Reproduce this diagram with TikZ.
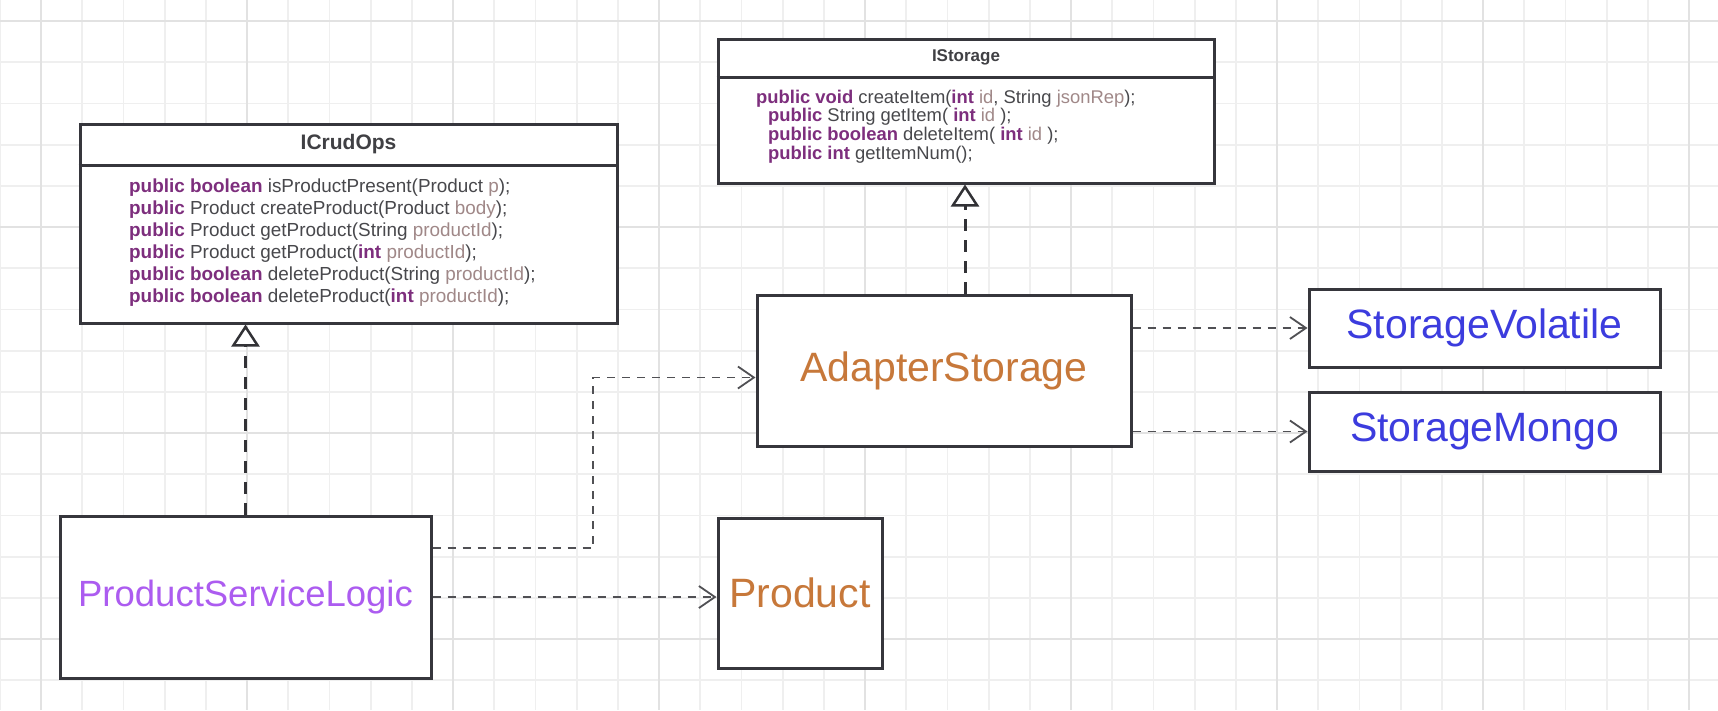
\documentclass[tikz,border=0pt]{standalone}
\usepackage{fontspec}
\setmainfont{Liberation Sans}
\usetikzlibrary{arrows.meta}
\definecolor{boxc}{RGB}{54,54,60}
\definecolor{linec}{RGB}{80,80,84}
\definecolor{realc}{RGB}{50,50,54}
\definecolor{gridminor}{RGB}{239,239,239}
\definecolor{gridmajor}{RGB}{226,226,226}
\definecolor{orangec}{RGB}{199,120,58}
\definecolor{purplec}{RGB}{172,92,240}
\definecolor{bluec}{RGB}{60,60,222}
\definecolor{kwc}{RGB}{125,46,125}
\definecolor{plainc}{RGB}{72,72,76}
\definecolor{pac}{RGB}{160,136,136}
\definecolor{titlec}{RGB}{64,64,68}
\newcommand{\ukw}[1]{\textbf{\color{kwc}#1}}
\newcommand{\upa}[1]{{\color{pac}#1}}
\tikzset{
  box/.style={draw=boxc, line width=3pt, fill=white, inner sep=0pt},
  bigtext/.style={font=\fontsize{41}{49}\selectfont},
  sepline/.style={draw=boxc, line width=3pt},
  ctitle/.style={font=\fontsize{#1}{#1}\selectfont\bfseries, text=titlec, inner sep=0pt},
  methcrud/.style={font=\fontsize{18.9}{22}\selectfont, text=plainc, inner sep=0pt, anchor=north west},
  methstor/.style={font=\fontsize{18.4}{18.6}\selectfont, text=plainc, inner sep=0pt, anchor=north west},
  dep/.style={draw=linec, line width=1.6pt, dash pattern=on 8pt off 7pt,
    -{Straight Barb[length=16pt,width=22pt,line width=1.8pt]}},
  real/.style={draw=realc, line width=3pt, dash pattern=on 12pt off 9pt,
    -{Triangle[length=22pt,width=28pt,fill=white,line width=2.5pt]}},
  gmin/.style={draw=gridminor, line width=1.8pt},
  gmaj/.style={draw=gridmajor, line width=2.4pt},
}
\begin{document}
\begin{tikzpicture}[x=1pt,y=-1pt]
\useasboundingbox[fill=white] (0,0) rectangle (1718,710);
% grid
\foreach \k in {-1,...,40} {
  \pgfmathsetmacro\xx{41+41.2*\k}
  \draw[gmin] (\xx,0) -- (\xx,710);
}
\foreach \k in {0,...,16} {
  \pgfmathsetmacro\yy{21+41.2*\k}
  \draw[gmin] (0,\yy) -- (1718,\yy);
}
\foreach \k in {0,...,8} {
  \pgfmathsetmacro\xx{41+206*\k}
  \draw[gmaj] (\xx,0) -- (\xx,710);
}
\foreach \k in {0,...,3} {
  \pgfmathsetmacro\yy{21+206*\k}
  \draw[gmaj] (0,\yy) -- (1718,\yy);
}

% ICrudOps class
\node[box, minimum width=537pt, minimum height=199pt] (icrud) at (348.5,223.5) {};
\draw[sepline] ([yshift=-43pt]icrud.north west) -- ([yshift=-43pt]icrud.north east);
\node[ctitle=21] (icrudt) at ([yshift=-21.5pt]icrud.north) {ICrudOps};
\node[methcrud] (icrudm) at (129,177) {\begin{tabular}{@{}l@{}}
\ukw{public boolean} isProductPresent(Product \upa{p});\\
\ukw{public} Product createProduct(Product \upa{body});\\
\ukw{public} Product getProduct(String \upa{productId});\\
\ukw{public} Product getProduct(\ukw{int} \upa{productId});\\
\ukw{public boolean} deleteProduct(String \upa{productId});\\
\ukw{public boolean} deleteProduct(\ukw{int} \upa{productId});
\end{tabular}};

% IStorage class
\node[box, minimum width=496pt, minimum height=144pt] (istorage) at (966,111) {};
\draw[sepline] ([yshift=-40pt]istorage.north west) -- ([yshift=-40pt]istorage.north east);
\node[ctitle=17] (istoraget) at ([yshift=-20pt]istorage.north) {IStorage};
\node[methstor] (istoragem) at (756,89.5) {\begin{tabular}{@{}l@{}}
\ukw{public void} createItem(\ukw{int} \upa{id}, String \upa{jsonRep});\\
\hspace*{12pt}\ukw{public} String getItem( \ukw{int} \upa{id} );\\
\hspace*{12pt}\ukw{public boolean} deleteItem( \ukw{int} \upa{id} );\\
\hspace*{12pt}\ukw{public int} getItemNum();
\end{tabular}};

% plain boxes
\node[box, bigtext, text=orangec, minimum width=374pt, minimum height=151pt] (adapter) at (944,370.5) {AdapterStorage};
\node[box, bigtext, text=bluec, minimum width=351pt, minimum height=78pt] (sv) at (1484.5,328) {StorageVolatile};
\node[box, bigtext, text=bluec, minimum width=351pt, minimum height=79pt] (sm) at (1484.5,431.5) {StorageMongo};
\node[box, font=\fontsize{36.5}{44}\selectfont, text=purplec, minimum width=371pt, minimum height=162pt] (psl) at (245.5,597) {ProductServiceLogic};
\node[box, bigtext, text=orangec, minimum width=164pt, minimum height=150pt] (product) at (800,593) {Product};

% realizations
\draw[real] (psl.north) -- (psl.north |- icrud.south);
\coordinate (adtop) at ([xshift=21pt]adapter.north);
\draw[real] (adtop) -- (adtop |- istorage.south);

% dependencies
\coordinate (pslout) at ([yshift=49pt]psl.east);
\coordinate (elbow) at (593,548);
\coordinate (adin) at ([yshift=-7pt]adapter.west);
\draw[dep] (pslout) -- (elbow) |- (adin);
\draw[dep] (psl.east) -- (psl.east -| product.west);
\draw[dep] (sv.west -| adapter.east) -- (sv.west);
\draw[dep] (sm.west -| adapter.east) -- (sm.west);
\end{tikzpicture}
\end{document}
